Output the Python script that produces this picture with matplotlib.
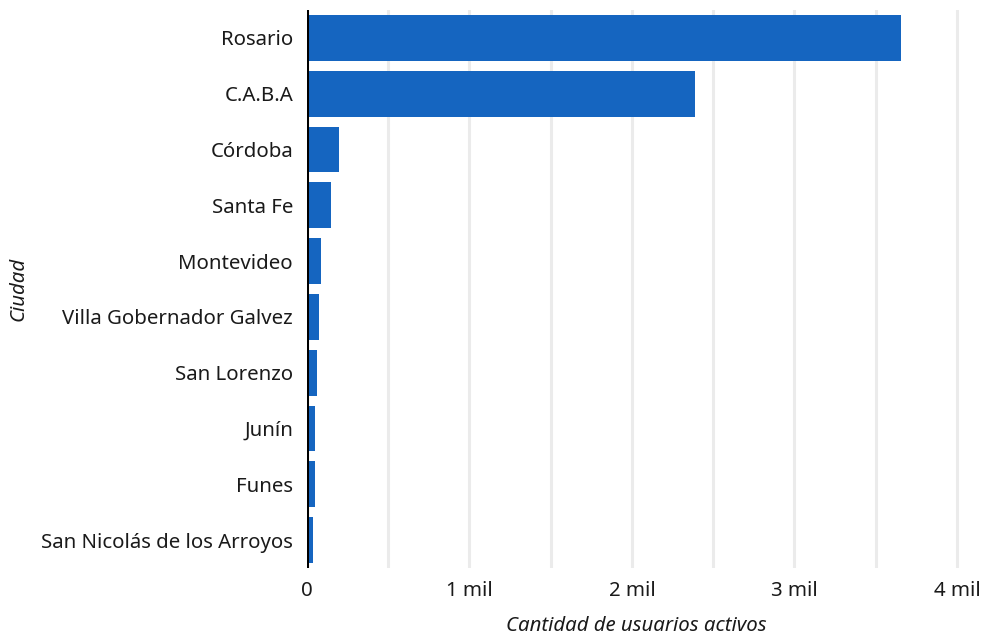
import matplotlib
matplotlib.use("Agg")
import matplotlib.pyplot as plt

plt.rcParams['font.family'] = ['Noto Sans', 'DejaVu Sans']

cities = ["Rosario", "C.A.B.A", "Córdoba", "Santa Fe", "Montevideo",
          "Villa Gobernador Galvez", "San Lorenzo", "Junín", "Funes",
          "San Nicolás de los Arroyos"]
users = [3655, 2388, 197, 148, 86, 74, 62, 49, 49, 37]
xticks = [0, 1000, 2000, 3000, 4000]
xtick_labels = ["0", "1 mil", "2 mil", "3 mil", "4 mil"]
grid_ticks = [500, 1000, 1500, 2000, 2500, 3000, 3500, 4000]

W, H = 981, 637
fig = plt.figure(figsize=(W/100, H/100), dpi=100)
ax = fig.add_axes([307/W, 1-568/H, (965-307)/W, (568-10)/H])

ypos = list(range(len(cities)))
ax.barh(ypos, users, height=0.82, color="#1565c0", zorder=3)
ax.set_ylim(len(cities)-0.5, -0.5)
ax.set_xlim(0, 4050)

for g in grid_ticks:
    ax.axvline(g, color="#ebebeb", lw=2.2, zorder=1)
ax.axvline(0, color="black", lw=2.2, zorder=4)

fs = 14.7
tc = "#1a1a1a"
ax.set_xticks(xticks)
ax.set_xticklabels(xtick_labels, fontsize=fs, color=tc)
ax.set_yticks(ypos)
ax.set_yticklabels(cities, fontsize=fs, color=tc)
ax.tick_params(axis='y', length=0, pad=10)
ax.tick_params(axis='x', length=0, pad=9)
for s in ax.spines.values():
    s.set_visible(False)

ax.set_xlabel("Cantidad de usuarios activos", fontsize=fs, style="italic", color=tc, labelpad=11.5)
ax.set_ylabel("Ciudad", fontsize=fs, style="italic", color=tc, labelpad=9)

fig.savefig("out.png", dpi=100)
